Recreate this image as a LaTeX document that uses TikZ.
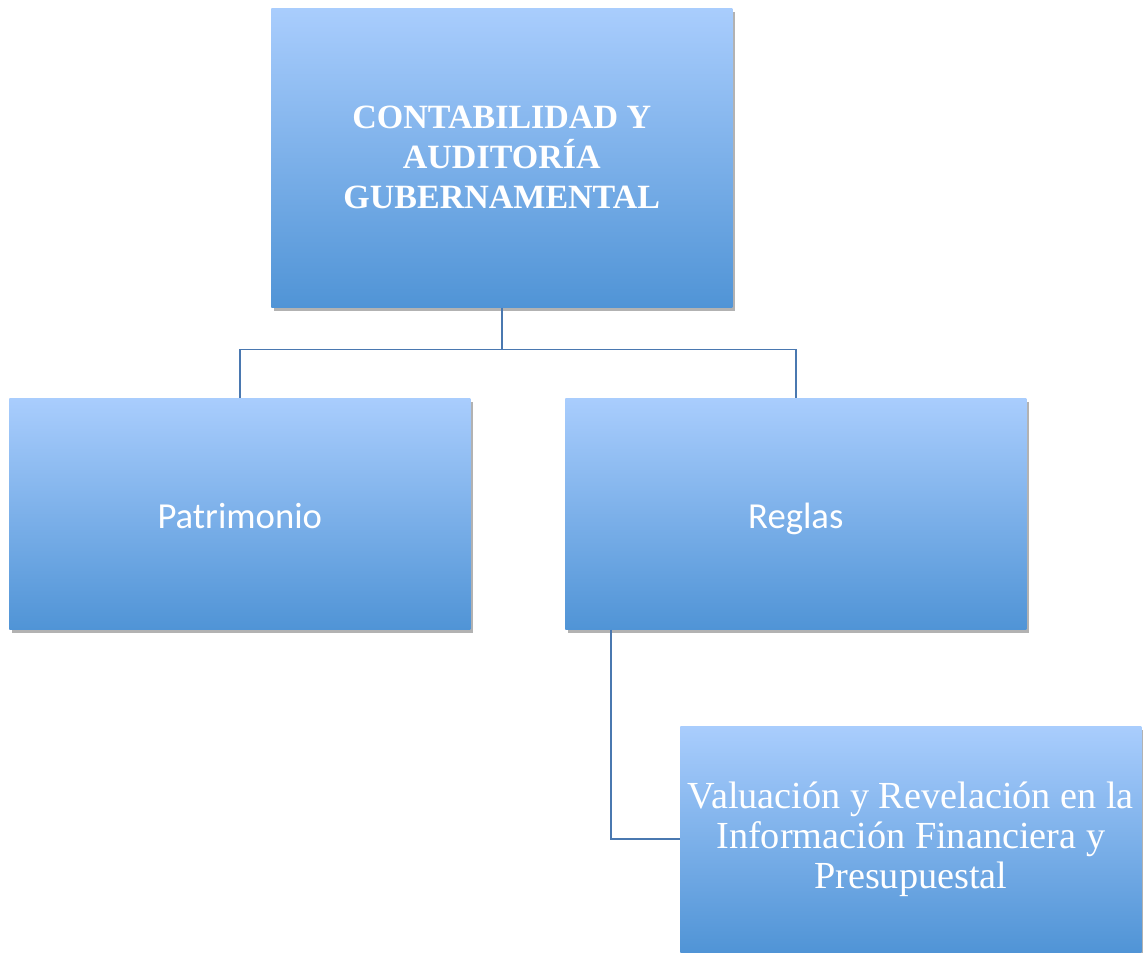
\documentclass[tikz,border=0pt]{standalone}
\usepackage{fontspec}
\setmainfont{Liberation Serif}
\newfontfamily\carlito{Carlito}
\usepackage{xcolor}
\usetikzlibrary{shadows}
\definecolor{cajaarriba}{HTML}{A9CDFD}
\definecolor{cajaabajo}{HTML}{5094D6}
\definecolor{enlace}{HTML}{4A78B0}

\begin{document}
\begin{tikzpicture}[x=0.75pt, y=-0.75pt,
        caja/.style={rectangle, anchor=north west, inner sep=0pt, align=center, text=white,
            minimum width=345.75pt, top color=cajaarriba, bottom color=cajaabajo,
            drop shadow={shadow xshift=2pt, shadow yshift=-2.5pt, opacity=.3, fill=black}},
        hoja/.style={caja, minimum height=173.25pt, text height=21.8pt, text depth=0pt,
            font=\carlito\fontsize{27.5}{33}\selectfont},
        enlace/.style={draw=enlace, line width=1.3pt}]
    \useasboundingbox (0,0) rectangle (1143,953);
    \node[caja, minimum height=224.25pt, font=\bfseries\fontsize{25.5}{30}\selectfont]
        (cag) at (271,8) {CONTABILIDAD Y\\AUDITORÍA\\GUBERNAMENTAL};
    \node[hoja] (pat) at (9,398) {Patrimonio};
    \node[hoja] (reg) at (565,398) {Reglas};
    \node[caja, minimum height=169.5pt, font=\fontsize{28.7}{30}\selectfont]
        (val) at (680,726) {Valuación y Revelación en la\\Información Financiera y\\Presupuestal};
    \coordinate (rama) at ([yshift=-31.5pt]cag.south);
    \draw[enlace] (cag.south) -- (rama) -| (pat.north);
    \draw[enlace] (rama) -| (reg.north);
    \draw[enlace] ([xshift=34.5pt]reg.south west) |- (val.west);
\end{tikzpicture}
\end{document}
